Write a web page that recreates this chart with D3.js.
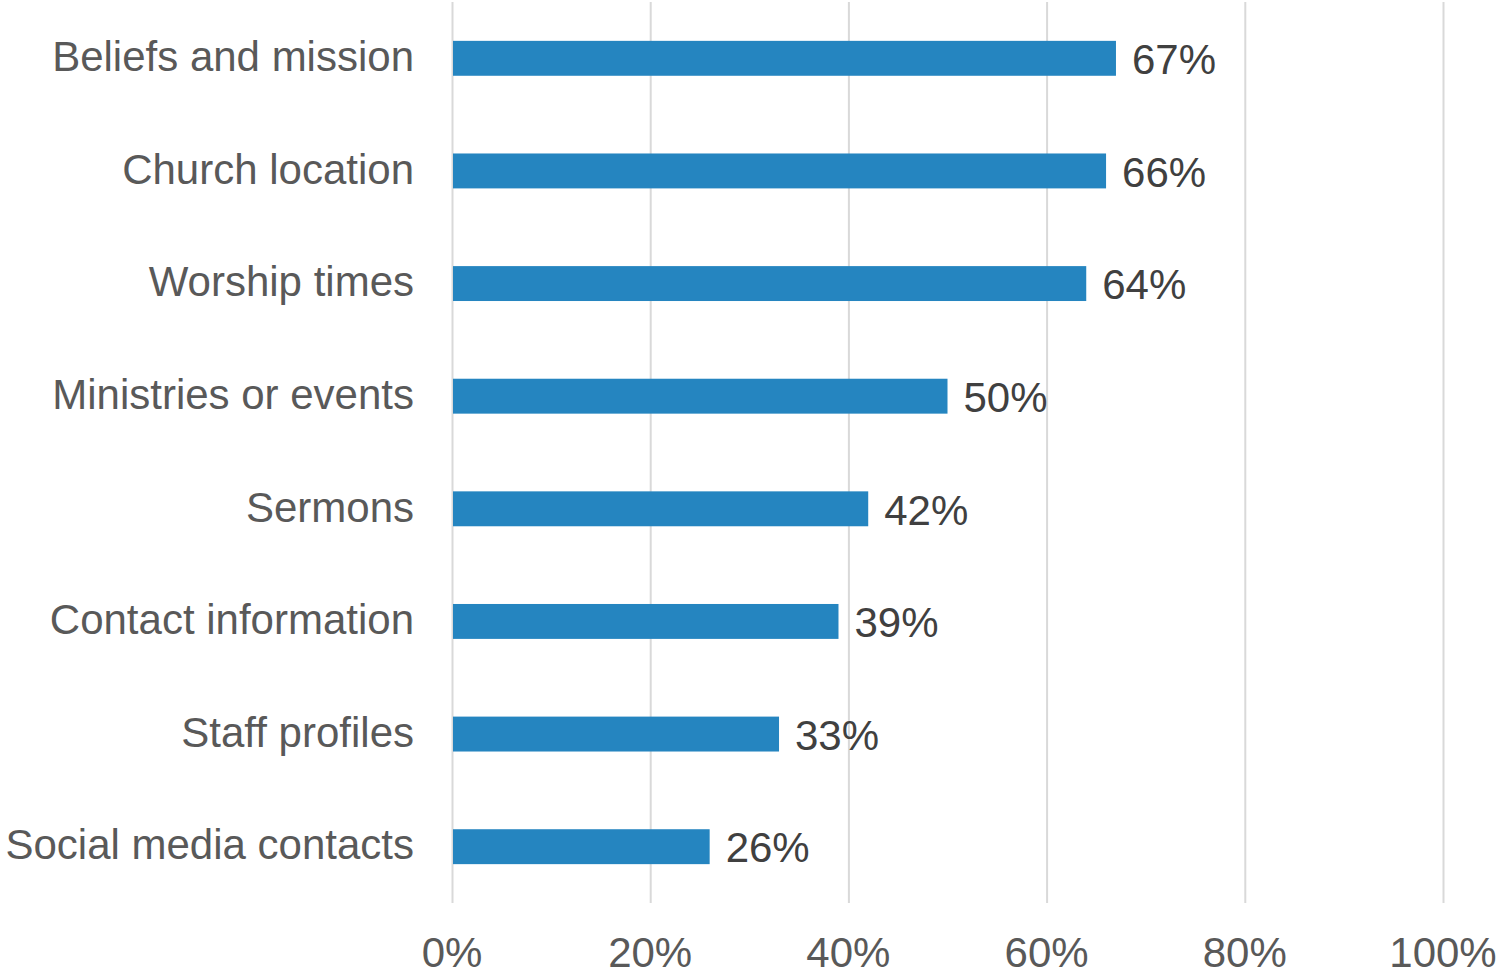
<!DOCTYPE html>
<html>
<head>
<meta charset="utf-8">
<script src="https://cdn.jsdelivr.net/npm/d3@7"></script>
<style>
  body { margin: 0; background: #fff; }
  svg text { font-family: "Liberation Sans", Arial, sans-serif; }
</style>
</head>
<body>
<svg id="drawing_region"></svg>
<script>
var Categories = ['Beliefs and mission', 'Church location', 'Worship times', 'Ministries or events',
    'Sermons', 'Contact information', 'Staff profiles', 'Social media contacts'];
var Values = [67, 66, 64, 50, 42, 39, 33, 26];
var Ticks = [0, 20, 40, 60, 80, 100];

var Config = {
    parent: '#drawing_region',
    width: 1499,
    height: 974,
    margin: { top: 2, right: 56, bottom: 71, left: 452 }
};

class BarChart {
    constructor(config) {
        this.config = config;
        this.init();
    }

    init() {
        let self = this;
        let m = self.config.margin;
        self.svg = d3.select(self.config.parent)
            .attr('width', self.config.width)
            .attr('height', self.config.height);
        self.innerW = self.config.width - m.left - m.right;
        self.innerH = self.config.height - m.top - m.bottom;
        self.chart = self.svg.append('g')
            .attr('transform', `translate(${m.left}, ${m.top})`);

        self.x = d3.scaleLinear().domain([0, 100]).range([0, self.innerW]);
        self.y = d3.scaleBand().domain(Categories).range([0, self.innerH]).paddingInner(0.69).paddingOuter(0.345);
    }

    update() {
        let self = this;
        let data = Categories.map((c, i) => ({ label: c, value: Values[i] }));

        // gridlines
        self.chart.selectAll('line.grid')
            .data(Ticks)
            .join('line')
            .attr('class', 'grid')
            .attr('x1', d => self.x(d) + 0.5)
            .attr('x2', d => self.x(d) + 0.5)
            .attr('y1', 0)
            .attr('y2', self.innerH)
            .attr('stroke', '#d9d9d9')
            .attr('stroke-width', 2);

        // x tick labels
        self.chart.selectAll('text.tick')
            .data(Ticks)
            .join('text')
            .attr('class', 'tick')
            .attr('x', d => self.x(d))
            .attr('y', self.innerH + 64)
            .attr('text-anchor', 'middle')
            .attr('font-size', 42)
            .attr('fill', '#595959')
            .text(d => d + '%');

        self.chart.selectAll('rect.bar')
            .data(data)
            .join('rect')
            .attr('class', 'bar')
            .attr('x', self.x(0) + 1)
            .attr('y', d => self.y(d.label))
            .attr('width', d => self.x(d.value) - 1)
            .attr('height', self.y.bandwidth())
            .attr('fill', '#2585c0');

        // category labels
        self.chart.selectAll('text.cat')
            .data(data)
            .join('text')
            .attr('class', 'cat')
            .attr('x', -38)
            .attr('y', d => self.y(d.label) + self.y.bandwidth() / 2 - 2)
            .attr('dy', '0.35em')
            .attr('text-anchor', 'end')
            .attr('font-size', 42)
            .attr('fill', '#595959')
            .text(d => d.label);

        // value labels
        self.chart.selectAll('text.val')
            .data(data)
            .join('text')
            .attr('class', 'val')
            .attr('x', d => self.x(d.value) + 16)
            .attr('y', d => self.y(d.label) + self.y.bandwidth() / 2 + 1)
            .attr('dy', '0.35em')
            .attr('font-size', 42)
            .attr('fill', '#404040')
            .text(d => d.value + '%');
    }
}

const bar_chart = new BarChart(Config);
bar_chart.update();
</script>
</body>
</html>
